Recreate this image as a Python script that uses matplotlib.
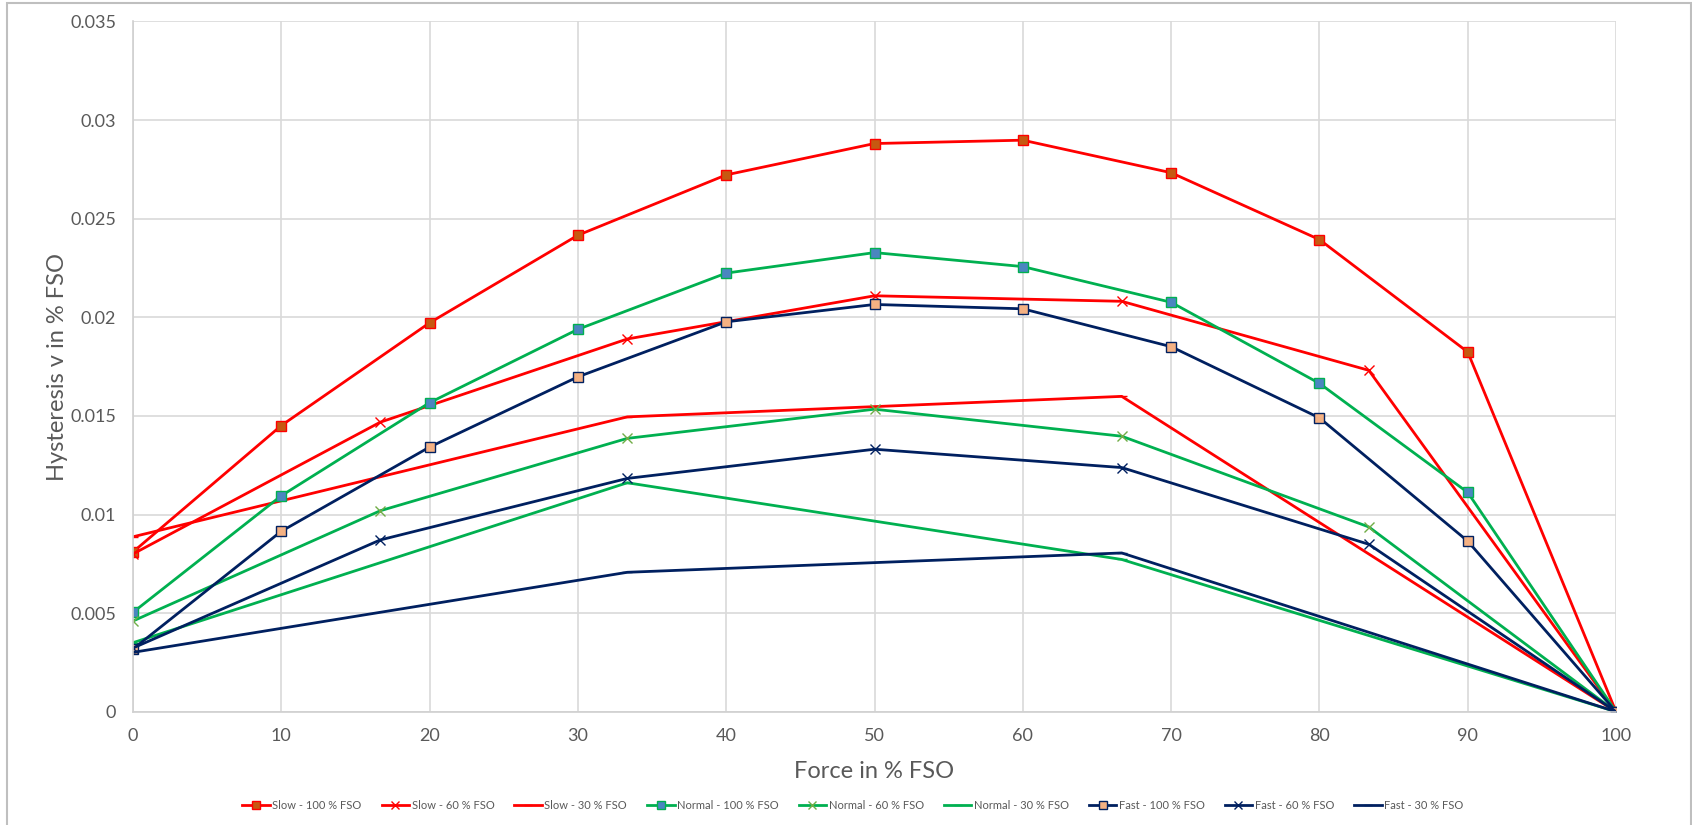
import numpy as np
import matplotlib.pyplot as plt
from matplotlib.patches import Rectangle

# x positions of the three step sizes
x_100 = [0, 10, 20, 30, 40, 50, 60, 70, 80, 90, 100]
x_60 = [0, 16.67, 33.33, 50, 66.67, 83.33, 100]
x_30 = [0, 33.33, 66.67, 100]

slow_100 = [0.0081, 0.01451, 0.01972, 0.02416, 0.02722, 0.02881, 0.02898, 0.02733, 0.02394, 0.01824, 0.0]
slow_60 = [0.0080, 0.01468, 0.0189, 0.02109, 0.02081, 0.01731, 0.0]
slow_30 = [0.00887, 0.01495, 0.01599, 0.0]

normal_100 = [0.00504, 0.01095, 0.01567, 0.01939, 0.02224, 0.02328, 0.02257, 0.02076, 0.01665, 0.01112, 0.0]
normal_60 = [0.0046, 0.01019, 0.01386, 0.01534, 0.01397, 0.00937, 0.0]
normal_30 = [0.0035, 0.01161, 0.00772, 0.0]

fast_100 = [0.00318, 0.00915, 0.01342, 0.01698, 0.01977, 0.02065, 0.02043, 0.01851, 0.0149, 0.00865, 0.0]
fast_60 = [0.00323, 0.00871, 0.01183, 0.01331, 0.01238, 0.00849, 0.0]
fast_30 = [0.00301, 0.00707, 0.00805, 0.0]

FONT = 'Lato'
GREY = '#595959'

fig = plt.figure(figsize=(16.92, 8.25), dpi=100)
ax = fig.add_axes([0.0786, 0.1373, 0.8765, 0.8367])

red, green, navy = '#FF0000', '#00B050', '#002060'

ax.plot(x_100, slow_100, color=red, lw=2, marker='s', ms=6.5, mfc='#C65911', mec=red, label='Slow - 100 % FSO')
ax.plot(x_60, slow_60, color=red, lw=2, marker='x', ms=6.5, mec=red, label='Slow - 60 % FSO')
ax.plot(x_30, slow_30, color=red, lw=2, marker='_', ms=6.5, mec=red, label='Slow - 30 % FSO')
ax.plot(x_100, normal_100, color=green, lw=2, marker='s', ms=6.5, mfc='#4A86C0', mec=green, label='Normal - 100 % FSO')
ax.plot(x_60, normal_60, color=green, lw=2, marker='x', ms=6.5, mec='#70AD47', label='Normal - 60 % FSO')
ax.plot(x_30, normal_30, color=green, lw=2, marker='_', ms=6.5, mec=green, label='Normal - 30 % FSO')
ax.plot(x_100, fast_100, color=navy, lw=2, marker='s', ms=6.5, mfc='#F4B183', mec=navy, label='Fast - 100 % FSO')
ax.plot(x_60, fast_60, color=navy, lw=2, marker='x', ms=6.5, mec=navy, label='Fast - 60 % FSO')
ax.plot(x_30, fast_30, color=navy, lw=2, marker='_', ms=6.5, mec=navy, label='Fast - 30 % FSO')

ax.set_xlim(0, 100)
ax.set_ylim(0, 0.035)
ax.set_xticks(np.arange(0, 101, 10))
ax.set_yticks(np.arange(0, 0.0351, 0.005))
ax.set_yticklabels(['0', '0.005', '0.01', '0.015', '0.02', '0.025', '0.03', '0.035'])
ax.grid(True, color='#D9D9D9', lw=1.2)
ax.set_axisbelow(True)
for s in ['top', 'right']:
    ax.spines[s].set_visible(False)
for s in ['left', 'bottom']:
    ax.spines[s].set_color('#D0D0D0')
    ax.spines[s].set_linewidth(1.2)
ax.tick_params(length=0, labelsize=13, labelcolor=GREY, pad=12)
for t in ax.get_xticklabels() + ax.get_yticklabels():
    t.set_fontfamily(FONT)

ax.set_xlabel('Force in % FSO', fontsize=17, color=GREY, family=FONT, labelpad=12)
ax.set_ylabel('Hysteresis v in % FSO', fontsize=17, color=GREY, family=FONT, labelpad=2)

leg = fig.legend(loc='center', bbox_to_anchor=(0.504, 0.024), ncol=9, frameon=False,
                 prop={'family': FONT, 'size': 8}, handlelength=2.5, columnspacing=1.8,
                 handletextpad=0.2, markerscale=0.8)
for t in leg.get_texts():
    t.set_color(GREY)

# chart border
fig.patches.append(Rectangle((7 / 1692, -0.05), (1691 - 7) / 1692, 1.05 - 3 / 825,
                             transform=fig.transFigure, fill=False, ec='#BFBFBF', lw=1.5))

fig.savefig('out.png', dpi=100)
